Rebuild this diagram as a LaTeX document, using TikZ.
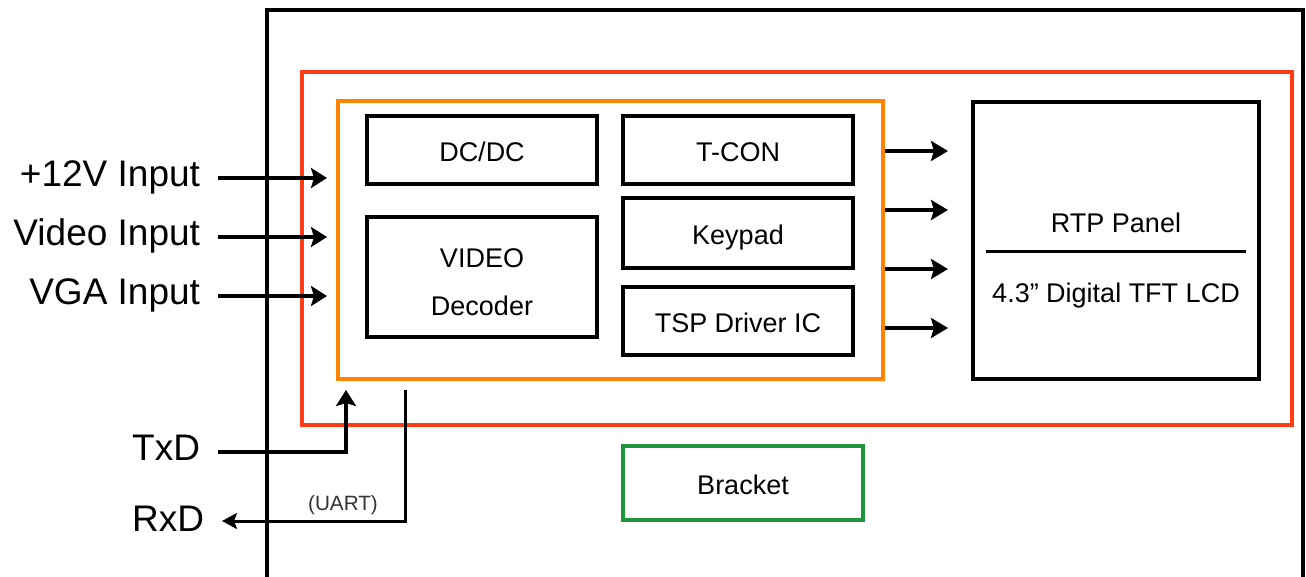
\documentclass[tikz,border=0pt]{standalone}
\usepackage{fontspec}
\setmainfont{Liberation Sans}
\usetikzlibrary{arrows.meta}
\definecolor{framered}{RGB}{255,60,20}
\definecolor{frameorange}{RGB}{255,130,0}
\definecolor{bracketgreen}{RGB}{30,150,60}
\tikzset{
    blk/.style={draw, line width=4pt, inner sep=0pt, text height=22pt, text depth=0pt, font=\fontsize{27}{48}\selectfont, align=center},
    lbl/.style={inner sep=0pt, outer xsep=18pt, text height=26pt, text depth=10pt, font=\fontsize{37}{44}\selectfont, anchor=east},
    inarr/.style={line width=4pt, -{Stealth[length=16pt,width=20pt,inset=3pt]}},
    outarr/.style={line width=4pt, -{Stealth[length=17pt,width=20pt,inset=3pt]}}
}
\begin{document}
\begin{tikzpicture}[x=1pt,y=-1pt]
    \useasboundingbox[fill=white] (0,0) rectangle (1306,576);
    \clip (0,0) rectangle (1306,576);
    % frames
    \draw[line width=4.5pt] (267,600) -- (267,10) -- (1303,10) -- (1303,600);
    \draw[framered, line width=4pt] (302,72) rectangle (1292,425);
    \node[draw=frameorange, line width=4pt, inner sep=0pt, minimum width=545pt, minimum height=278pt] (orange) at (610.5,240) {};
    % blocks
    \node[blk, minimum width=230pt, minimum height=68pt] (dcdc) at (482,150) {DC/DC};
    \node[blk, minimum width=230pt, minimum height=120pt, text height=76pt] (video) at (482,277) {VIDEO\\Decoder};
    \node[blk, minimum width=230pt, minimum height=68pt] (tcon) at (738,150) {T-CON};
    \node[blk, minimum width=230pt, minimum height=70pt] (keypad) at (738,233) {Keypad};
    \node[blk, minimum width=230pt, minimum height=68pt] (tsp) at (738,321) {TSP Driver IC};
    \node[blk, minimum width=286pt, minimum height=277pt] (rtp) at (1116,240) {};
    \node[font=\fontsize{27}{32}\selectfont] (rtptop) at (1116,223) {RTP Panel};
    \node[font=\fontsize{27}{32}\selectfont] (rtpbot) at (1116,296) {4.3” Digital TFT LCD};
    \draw[line width=3pt] ([xshift=15pt]rtp.west |- 0,251) -- ([xshift=-15pt]rtp.east |- 0,251);
    \node[blk, draw=bracketgreen, minimum width=240pt, minimum height=74pt] (bracket) at (743,483) {Bracket};
    % inputs
    \node[lbl] (in12v) at (218,178) {+12V Input};
    \node[lbl] (invideo) at (218,237) {Video Input};
    \node[lbl] (invga) at (218,296) {VGA Input};
    \foreach \n in {in12v,invideo,invga}
        \draw[inarr, shorten >=9pt] (\n.east) -- (\n.east -| orange.west);
    % outputs to panel
    \foreach \y [count=\i] in {151,210,269,328} {
        \coordinate (o\i) at (0,\y);
        \draw[outarr, shorten >=23pt] (orange.east |- o\i) -- (rtp.west |- o\i);
    }
    % uart
    \node[lbl] (txd) at (218,452) {TxD};
    \node[lbl, text depth=5pt] (rxd) at (222,521) {RxD};
    \coordinate (txin) at (346,390);
    \coordinate (rxout) at (405,390);
    \draw[inarr] (txd.east) -| (txin);
    \draw[line width=3pt, {Stealth[length=15pt,width=16pt,inset=3pt]}-] (rxd.east) -| (rxout);
    \node[font=\fontsize{20.7}{24}\selectfont, text=black!80] (uart) at (343,505) {(UART)};
\end{tikzpicture}
\end{document}
